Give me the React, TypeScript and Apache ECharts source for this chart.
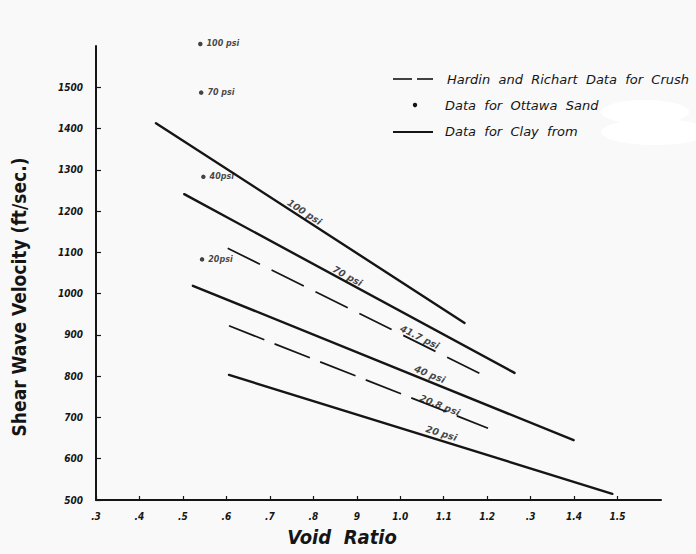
import React, { useEffect, useRef } from "react";
import * as echarts from "echarts";

// Void ratio axis: tick positions and the labels printed under them
const xTickValues = [0.3, 0.4, 0.5, 0.6, 0.7, 0.8, 0.9, 1.0, 1.1, 1.2, 1.3, 1.4, 1.5];
const xTickLabels = [".3", ".4", ".5", ".6", ".7", ".8", "9", "1.0", "1.1", "1.2", ".3", "1.4", "1.5"];
// Shear wave velocity axis (ft/sec)
const yTickValues = [500, 600, 700, 800, 900, 1000, 1100, 1200, 1300, 1400, 1500];

// Clay, solid lines: [void ratio, velocity]
const clay100psi = [[0.438, 1413], [1.148, 929]];
const clay70psi = [[0.503, 1241], [1.263, 808]];
const clay40psi = [[0.523, 1019], [1.399, 645]];
const clay20psi = [[0.606, 803], [1.488, 515]];

// Hardin and Richart, dashed lines
const hardin417psi = [[0.603, 1110], [1.198, 799]];
const hardin208psi = [[0.606, 922], [1.202, 674]];

// Ottawa sand points
const sandPoints = [[0.54, 1605], [0.542, 1487], [0.547, 1283], [0.544, 1083]];
const sandLabels = ["100 psi", "70 psi", "40psi", "20psi"];

// Pressure labels written along the lines
const lineLabelText = ["100 psi", "70 psi", "41.7 psi", "40 psi", "20.8 psi", "20 psi"];
const lineLabelAt = [[0.78, 1198], [0.879, 1043], [1.045, 895], [1.068, 805], [1.091, 730], [1.095, 662]];
const lineLabelOf = [clay100psi, clay70psi, hardin417psi, clay40psi, hardin208psi, clay20psi];

const INK = "#151515";
const COND = "'DejaVu Sans Condensed', 'DejaVu Sans', sans-serif";
const SANS = "'DejaVu Sans', sans-serif";

export default function App() {
  const ref = useRef<HTMLDivElement>(null);

  useEffect(() => {
    if (!ref.current) return;
    const chart = echarts.init(ref.current, null, { renderer: "svg" });

    const solid = (name: string, data: number[][]) => ({
      name,
      type: "line",
      data,
      symbol: "none",
      clip: false,
      silent: true,
      lineStyle: { color: INK, width: 2.4, cap: "round" },
    });
    const dashed = (name: string, data: number[][], dash: number[]) => ({
      name,
      type: "line",
      data,
      symbol: "none",
      clip: false,
      silent: true,
      lineStyle: { color: INK, width: 1.7, type: dash },
    });

    const baseOption: any = {
      animation: false,
      backgroundColor: "#f9f9f9",
      grid: { left: 96, right: 35, top: 46, bottom: 54 },
      xAxis: {
        type: "value",
        min: 0.3,
        max: 1.6,
        interval: 0.1,
        splitLine: { show: false },
        axisLine: { lineStyle: { color: INK, width: 2 } },
        axisTick: { inside: true, length: 4, lineStyle: { color: INK, width: 1.2 }, customValues: xTickValues },
        axisLabel: {
          customValues: xTickValues,
          margin: 11,
          color: INK,
          fontFamily: COND,
          fontStyle: "italic",
          fontWeight: "bold",
          fontSize: 10,
          formatter: (v: number) => xTickLabels[Math.round(v * 10) - 3] ?? "",
        },
      },
      yAxis: {
        type: "value",
        min: 500,
        max: 1600,
        interval: 100,
        splitLine: { show: false },
        axisLine: { lineStyle: { color: INK, width: 2 } },
        axisTick: { inside: true, length: 5, lineStyle: { color: INK, width: 1.2 }, customValues: yTickValues },
        axisLabel: {
          customValues: yTickValues,
          margin: 13,
          color: INK,
          fontFamily: COND,
          fontStyle: "italic",
          fontWeight: "bold",
          fontSize: 10,
          formatter: (v: number) => (v <= 1500 ? String(v) : ""),
        },
      },
      series: [
        solid("Clay 100 psi", clay100psi),
        solid("Clay 70 psi", clay70psi),
        solid("Clay 40 psi", clay40psi),
        solid("Clay 20 psi", clay20psi),
        dashed("Hardin 41.7 psi", hardin417psi, [36, 13]),
        dashed("Hardin 20.8 psi", hardin208psi, [38, 11]),
        {
          name: "Ottawa Sand",
          type: "scatter",
          data: sandPoints,
          symbolSize: 4.5,
          clip: false,
          itemStyle: { color: INK },
          label: {
            show: true,
            position: "right",
            distance: 4,
            color: INK,
            fontFamily: SANS,
            fontStyle: "italic",
            fontWeight: "bold",
            fontSize: 8,
            formatter: (p: any) => sandLabels[p.dataIndex],
          },
        },
      ],
      graphic: [
        // patch of white-out beside the legend
        { type: "ellipse", shape: { cx: 645, cy: 112, rx: 44, ry: 12 }, style: { fill: "#ffffff" }, silent: true },
        { type: "ellipse", shape: { cx: 655, cy: 132, rx: 54, ry: 13 }, style: { fill: "#ffffff" }, silent: true },
        // legend
        { type: "line", shape: { x1: 393, y1: 79, x2: 412, y2: 79 }, style: { stroke: INK, lineWidth: 1.6 } },
        { type: "line", shape: { x1: 417, y1: 79, x2: 433, y2: 79 }, style: { stroke: INK, lineWidth: 1.6 } },
        {
          type: "text", x: 447, y: 79,
          style: { text: "Hardin  and  Richart  Data  for  Crush", fill: INK, font: `italic 13px ${SANS}`, verticalAlign: "middle" },
        },
        { type: "circle", shape: { cx: 415, cy: 105, r: 2.2 }, style: { fill: INK } },
        {
          type: "text", x: 445, y: 105,
          style: { text: "Data  for  Ottawa  Sand", fill: INK, font: `italic 13px ${SANS}`, verticalAlign: "middle" },
        },
        { type: "line", shape: { x1: 393, y1: 132, x2: 433, y2: 132 }, style: { stroke: INK, lineWidth: 2.2 } },
        {
          type: "text", x: 445, y: 131,
          style: { text: "Data  for  Clay  from", fill: INK, font: `italic 13px ${SANS}`, verticalAlign: "middle" },
        },
        // axis titles
        {
          type: "text", x: 19, y: 297, rotation: Math.PI / 2,
          style: { text: "Shear Wave Velocity (ft/sec.)", fill: INK, font: `bold 19px ${COND}`, align: "center", verticalAlign: "middle" },
        },
        {
          type: "text", x: 342, y: 537,
          style: { text: "Void  Ratio", fill: INK, font: `italic bold 20px ${COND}`, align: "center", verticalAlign: "middle" },
        },
      ],
    };

    chart.setOption(baseOption);

    // Labels along the lines, turned to each line's on-screen slope
    const labelData = lineLabelAt.map((pos, i) => {
      const line = lineLabelOf[i];
      const a = chart.convertToPixel({ gridIndex: 0 }, line[0]) as number[];
      const b = chart.convertToPixel({ gridIndex: 0 }, line[1]) as number[];
      const angle = (Math.atan2(a[1] - b[1], b[0] - a[0]) * 180) / Math.PI;
      return {
        value: pos,
        label: { formatter: lineLabelText[i], rotate: angle },
      };
    });

    chart.setOption({
      series: [
        ...baseOption.series,
        {
          name: "Line labels",
          type: "scatter",
          data: labelData,
          symbolSize: 0,
          clip: false,
          silent: true,
          label: {
            show: true,
            position: "inside",
            color: INK,
            fontFamily: SANS,
            fontStyle: "italic",
            fontWeight: "bold",
            fontSize: 9.5,
          },
        },
      ],
    });

    return () => chart.dispose();
  }, []);

  return (
    <div
      ref={ref}
      style={{ position: "fixed", left: 0, top: 0, width: 696, height: 554 }}
    />
  );
}
